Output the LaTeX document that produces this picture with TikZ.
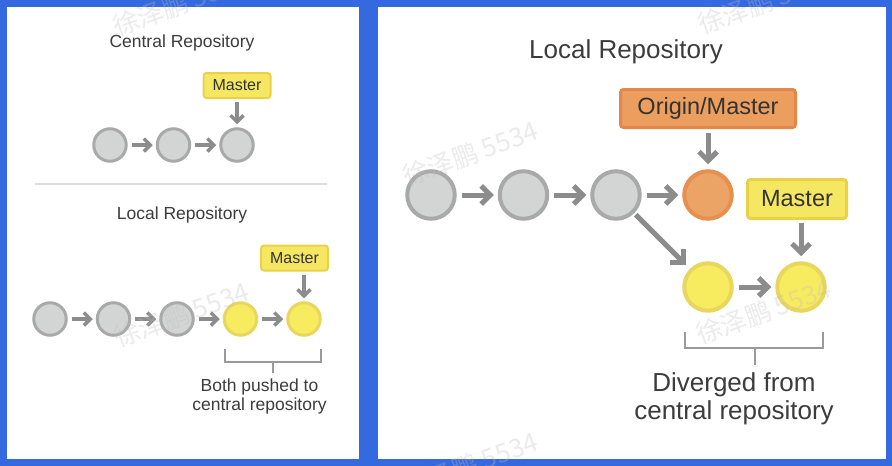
\documentclass[tikz,border=0pt]{standalone}
\usepackage{fontspec}
\setmainfont{Liberation Sans}
\newfontfamily\cjkfont{Noto Sans CJK SC}
\usetikzlibrary{arrows.meta}
\definecolor{bluebg}{HTML}{3469DF}
\definecolor{txt}{HTML}{3C3C3C}
\definecolor{cgfill}{HTML}{D3D5D5}
\definecolor{cgdraw}{HTML}{A9A9A9}
\definecolor{cyfill}{HTML}{F7EB5F}
\definecolor{cydraw}{HTML}{E8D65E}
\definecolor{cofill}{HTML}{ECA466}
\definecolor{codraw}{HTML}{E68F4E}
\definecolor{lyfill}{HTML}{F6E762}
\definecolor{lydraw}{HTML}{E9D24A}
\definecolor{lofill}{HTML}{EC9E5E}
\definecolor{lodraw}{HTML}{E2884A}
\definecolor{arrgray}{HTML}{8C8C8C}
\definecolor{brgray}{HTML}{9A9A9A}
\definecolor{divgray}{HTML}{DDDDDD}
\begin{document}
\begin{tikzpicture}[x=1pt,y=-1pt,
  small/.style={circle,inner sep=0pt,minimum size=32.5pt,line width=3pt},
  big/.style={circle,inner sep=0pt,minimum size=47.5pt,line width=4pt},
  grey/.style={fill=cgfill,draw=cgdraw},
  yel/.style={fill=cyfill,draw=cydraw},
  ora/.style={fill=cofill,draw=codraw},
  lbly/.style={rounded corners=3pt,fill=lyfill,draw=lydraw,text=black!80,inner sep=0pt},
  lblo/.style={rounded corners=3pt,fill=lofill,draw=lodraw,text=black!80,inner sep=0pt},
  arrs/.style={draw=arrgray,line width=3.5pt,-{Straight Barb[length=6.5pt,width=13pt]}},
  arrb/.style={draw=arrgray,line width=5pt,-{Straight Barb[length=9pt,width=18pt]}},
  brs/.style={draw=brgray,line width=2pt},
  title/.style={text=txt,inner sep=0pt},
  wm/.style={text=black!25,opacity=0.3,rotate=20,anchor=base west,inner sep=0pt,font=\cjkfont\fontsize{26}{28}\selectfont}
]
\useasboundingbox (0,0) rectangle (892,466);
\fill[bluebg] (0,0) rectangle (892,466);
\fill[white] (7,7) rectangle (359,459);
\fill[white] (378,7) rectangle (886,459);

% ---------- left panel ----------
\node[title,font=\fontsize{17.5}{19}\selectfont] (tcentral) at (182,43) {Central Repository};
\node[small,grey] (c1) at (110,145) {};
\node[small,grey] (c2) at (173.5,145) {};
\node[small,grey] (c3) at (237,145) {};
\node[lbly,line width=2pt,minimum width=67pt,minimum height=25pt,font=\fontsize{16}{18}\selectfont] (m1) at (237,85.5) {Master};
\draw[arrs,shorten <=4pt,shorten >=3pt] (c1) -- (c2);
\draw[arrs,shorten <=4pt,shorten >=3pt] (c2) -- (c3);
\draw[arrs,shorten <=3pt,shorten >=3pt] (m1.south) -- (c3.north);

\draw[divgray,line width=1.5pt] (35,184) -- (327,184);

\node[title,font=\fontsize{17.5}{19}\selectfont] (tlocal) at (182,215) {Local Repository};
\node[small,grey] (l1) at (50,319) {};
\node[small,grey] (l2) at (113.5,319) {};
\node[small,grey] (l3) at (177,319) {};
\node[small,yel] (l4) at (240.5,319) {};
\node[small,yel] (l5) at (304,319) {};
\node[lbly,line width=2pt,minimum width=67pt,minimum height=25pt,font=\fontsize{16}{18}\selectfont] (m2) at (294.5,258) {Master};
\draw[arrs,shorten <=4pt,shorten >=3pt] (l1) -- (l2);
\draw[arrs,shorten <=4pt,shorten >=3pt] (l2) -- (l3);
\draw[arrs,shorten <=4pt,shorten >=3pt] (l3) -- (l4);
\draw[arrs,shorten <=4pt,shorten >=3pt] (l4) -- (l5);
\draw[arrs,shorten <=3pt,shorten >=3pt] (m2.south -| l5) -- (l5.north);
\draw[brs] (225,349) -- (225,362) -- (321,362) -- (321,349);
\draw[brs] (273,362) -- (273,373);
\node[title,align=center,font=\fontsize{17.5}{19.5}\selectfont] (cap1) at (259.5,396.5) {Both pushed to\\central repository};

% ---------- right panel ----------
\node[title,font=\fontsize{26}{28}\selectfont] (tlocal2) at (626,52) {Local Repository};
\node[big,grey] (r1) at (431,195) {};
\node[big,grey] (r2) at (523.5,195) {};
\node[big,grey] (r3) at (616,195) {};
\node[big,ora] (r4) at (708,195) {};
\node[big,yel] (y1) at (708,287) {};
\node[big,yel] (y2) at (801,287) {};
\node[lblo,line width=3pt,minimum width=175pt,minimum height=38pt,font=\fontsize{23.5}{26}\selectfont] (o) at (708,108.5) {Origin/Master};
\node[lbly,line width=3pt,minimum width=99pt,minimum height=39pt,font=\fontsize{23.5}{26}\selectfont] (m3) at (797,199) {Master};
\draw[arrb,shorten <=5pt,shorten >=4pt] (r1) -- (r2);
\draw[arrb,shorten <=5pt,shorten >=4pt] (r2) -- (r3);
\draw[arrb,shorten <=5pt,shorten >=4pt] (r3) -- (r4);
\draw[arrb,shorten <=4pt,shorten >=5pt] (o.south) -- (r4.north);
\draw[arrb,shorten <=2pt,shorten >=6pt] (r3) -- (y1);
\draw[arrb,shorten <=5pt,shorten >=4pt] (y1) -- (y2);
\draw[arrb,shorten <=3pt,shorten >=5pt] (m3.south -| y2) -- (y2.north);
\draw[brs] (685,332) -- (685,348) -- (823,348) -- (823,332);
\draw[brs] (755,348) -- (755,365);
\node[title,align=center,font=\fontsize{26}{28}\selectfont] (cap2) at (734,399) {Diverged from\\central repository};

% ---------- watermarks ----------
\node[wm] (w1) at (117,37) {徐泽鹏 5534};
\node[wm] (w2) at (118,348) {徐泽鹏 5534};
\node[wm] (w3) at (407,187) {徐泽鹏 5534};
\node[wm] (w4) at (407,498) {徐泽鹏 5534};
\node[wm] (w5) at (702,35) {徐泽鹏 5534};
\node[wm] (w6) at (700,345) {徐泽鹏 5534};
\end{tikzpicture}
\end{document}
